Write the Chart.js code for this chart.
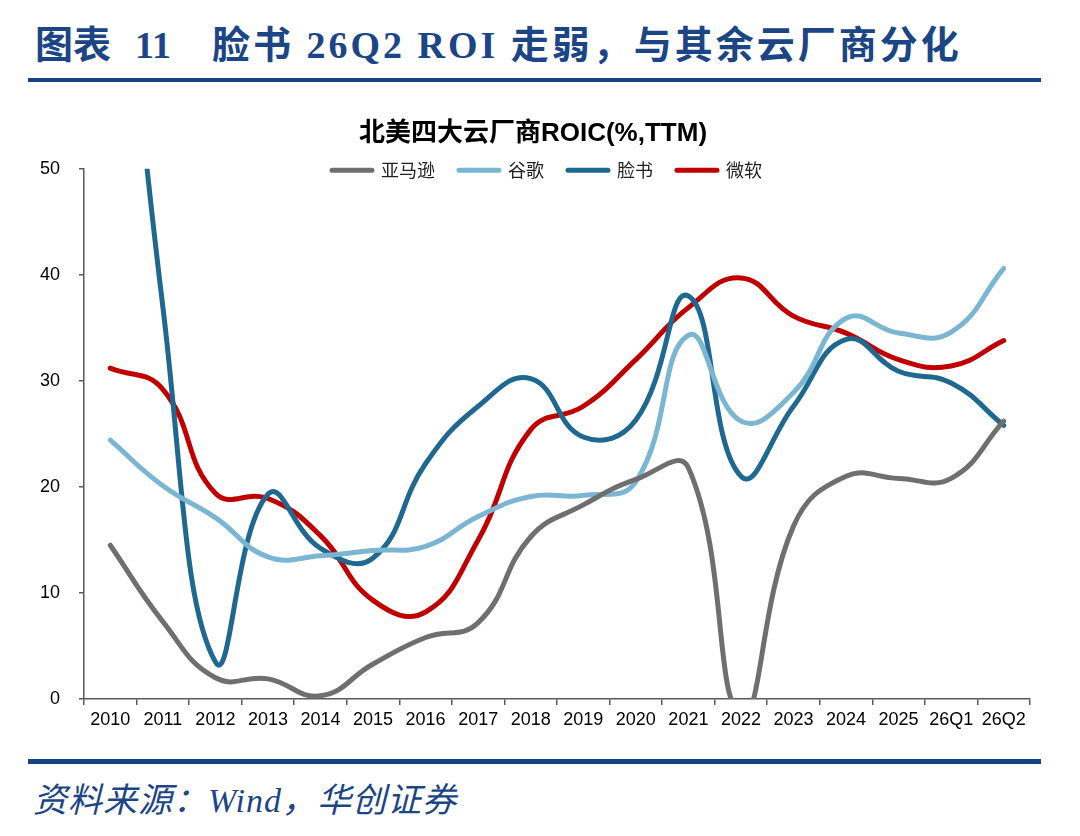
<!DOCTYPE html>
<html>
<head>
<meta charset="utf-8">
<script src="https://cdn.jsdelivr.net/npm/chart.js@4.4.1/dist/chart.umd.min.js"></script>
<style>
    body {
        margin: 0;
        width: 1080px;
        height: 836px;
        background: #fff;
        position: relative;
        overflow: hidden;
    }

    .head {
        position: absolute;
        top: 22px;
        font-family: "Liberation Serif", "Noto Sans CJK SC", serif;
        font-weight: bold;
        font-size: 38px;
        color: #1b4585;
        white-space: pre;
        line-height: 46px;
    }

    .rule {
        position: absolute;
        left: 28px;
        width: 1013px;
        height: 4px;
        background: #164282;
    }

    .source {
        position: absolute;
        left: 33px;
        top: 780px;
        font-family: "Liberation Serif", "Noto Sans CJK SC", serif;
        font-style: italic;
        font-size: 34px;
        line-height: 42px;
        color: #1b4585;
        letter-spacing: 1px;
    }

    #roic {
        position: absolute;
        left: 0;
        top: 100px;
    }
</style>
</head>
<body>
<div class="head" style="left:35px">图表</div>
<div class="head" style="left:135px">11</div>
<div class="head" style="left:212px; letter-spacing:3px">脸书 26Q2 ROI 走弱，与其余云厂商分化</div>
<div class="rule" style="top:78px"></div>

<canvas id="roic" width="1080" height="650"></canvas>

<div class="rule" style="top:759px; height:5px"></div>
<div class="source">资料来源：Wind，华创证券</div>

<script>
// values (%)
const categories = ["2010", "2011", "2012", "2013", "2014", "2015", "2016", "2017", "2018",
    "2019", "2020", "2021", "2022", "2023", "2024", "2025", "26Q1", "26Q2"];
const amazon = [14.5, 7.3, 2.0, 1.9, 0.3, 3.3, 5.8, 7.2, 15.3, 18.3, 20.7, 21.8, -1.5, 16.3, 21.0, 20.8, 20.8, 26.2];
const google = [24.4, 20.1, 17.1, 13.4, 13.5, 14.0, 14.4, 17.2, 19.1, 19.2, 20.5, 34.3, 26.2, 28.9, 35.9, 34.5, 34.6, 40.6];
const facebook = [85, 37, 3.5, 19.3, 14.2, 13.3, 22.2, 27.6, 30.2, 24.7, 26.3, 38.0, 21.0, 27.6, 33.9, 30.9, 29.8, 25.8];
const microsoft = [31.2, 29.2, 19.4, 18.9, 15.4, 9.3, 8.2, 15.0, 25.4, 27.6, 32.0, 36.9, 39.7, 36.1, 34.5, 32.0, 31.4, 33.8];
const yTicks = [0, 10, 20, 30, 40, 50];

const axisColor = "#595959";
const tickFont = { family: '"Liberation Sans", Arial, sans-serif', size: 18 };

const makeSet = (label, data, color) => {
    return {
        label: label,
        data: data,
        borderColor: color,
        backgroundColor: color,
        clip: 0,
    };
};

// legend takes no room in the layout and is drawn over the top edge of the plot
const legendFloat = {
    id: "legendFloat",
    beforeLayout(chart) {
        const lg = chart.legend;
        if (lg && !lg._floating) {
            const fit = lg.fit.bind(lg);
            lg.fit = function () {
                fit();
                this._realHeight = this.height;
                this.height = 0;
            };
            lg._floating = true;
        }
    },
    afterLayout(chart) {
        const lg = chart.legend;
        lg.top = chart.chartArea.top - 31.5;
        lg.height = lg._realHeight;
        lg.bottom = lg.top + lg.height;
        lg.left += 14;
        lg.right += 14;
    },
};

const ctx = document.getElementById("roic").getContext("2d");
new Chart(ctx, {
    type: "line",
    data: {
        labels: categories,
        datasets: [
            makeSet("亚马逊", amazon, "#6f6f6f"),
            makeSet("谷歌", google, "#7ab6d2"),
            makeSet("脸书", facebook, "#1f6890"),
            makeSet("微软", microsoft, "#c00000"),
        ],
    },
    options: {
        responsive: false,
        animation: false,
        layout: { padding: { left: 36, right: 50, top: 0, bottom: 0 } },
        elements: {
            line: {
                borderWidth: 5,
                tension: 0.45,
                capBezierPoints: false,
                borderCapStyle: "round",
                borderJoinStyle: "round",
            },
            point: { radius: 0 },
        },
        plugins: {
            title: {
                display: true,
                text: "北美四大云厂商ROIC(%,TTM)",
                color: "#000",
                font: { family: '"Liberation Sans", "Noto Sans CJK SC", sans-serif', size: 26, weight: "bold" },
                padding: { top: 18, bottom: 19.5 },
            },
            legend: {
                position: "top",
                align: "center",
                labels: {
                    usePointStyle: true,
                    pointStyle: "line",
                    pointStyleWidth: 40,
                    padding: 24,
                    color: "#222",
                    font: { family: '"Noto Sans CJK SC", sans-serif', size: 18 },
                    generateLabels(chart) {
                        const items = Chart.defaults.plugins.legend.labels.generateLabels(chart);
                        items.forEach((item, i) => {
                            item.strokeStyle = chart.data.datasets[i].borderColor;
                            item.lineWidth = 5;
                            item.lineCap = "round";
                        });
                        return items;
                    },
                },
            },
            tooltip: { enabled: false },
        },
        scales: {
            x: {
                offset: true,
                grid: {
                    offset: true,
                    drawOnChartArea: false,
                    tickLength: 6,
                    color: axisColor,
                    lineWidth: 1.5,
                },
                border: { color: axisColor, width: 1.5 },
                ticks: {
                    color: "#000",
                    font: tickFont,
                    padding: 4,
                    maxRotation: 0,
                    autoSkip: false,
                },
                afterFit(scale) {
                    scale.height = 51;
                },
            },
            y: {
                min: yTicks[0],
                max: yTicks[yTicks.length - 1],
                afterBuildTicks(scale) {
                    scale.ticks = yTicks.map((v) => ({ value: v }));
                },
                grid: {
                    drawOnChartArea: false,
                    tickLength: 5,
                    color: axisColor,
                    lineWidth: 1.5,
                },
                border: { color: axisColor, width: 1.5 },
                ticks: {
                    color: "#000",
                    font: tickFont,
                    padding: 19,
                },
                afterFit(scale) {
                    scale.width = 48;
                },
            },
        },
    },
    plugins: [legendFloat],
});
</script>
</body>
</html>
